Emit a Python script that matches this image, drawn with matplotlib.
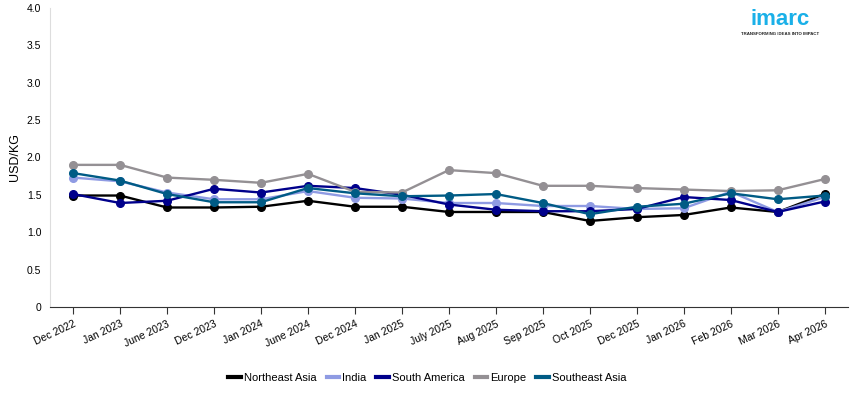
import matplotlib
matplotlib.use("Agg")
from matplotlib import pyplot as plt
from matplotlib.lines import Line2D

months = ["Dec 2022", "Jan 2023", "June 2023", "Dec 2023", "Jan 2024", "June 2024",
          "Dec 2024", "Jan 2025", "July 2025", "Aug 2025", "Sep 2025", "Oct 2025",
          "Dec 2025", "Jan 2026", "Feb 2026", "Mar 2026", "Apr 2026"]

northeast_asia = [1.49, 1.49, 1.33, 1.33, 1.34, 1.42, 1.34, 1.34, 1.27, 1.27, 1.27, 1.15, 1.20, 1.23, 1.33, 1.27, 1.51]
india = [1.73, 1.68, 1.53, 1.44, 1.44, 1.55, 1.46, 1.45, 1.39, 1.39, 1.35, 1.35, 1.31, 1.32, 1.54, 1.27, 1.47]
south_america = [1.51, 1.39, 1.42, 1.58, 1.53, 1.62, 1.59, 1.50, 1.37, 1.30, 1.28, 1.28, 1.31, 1.47, 1.43, 1.27, 1.41]
europe = [1.90, 1.90, 1.73, 1.70, 1.66, 1.78, 1.54, 1.53, 1.83, 1.79, 1.62, 1.62, 1.59, 1.57, 1.55, 1.56, 1.71]
southeast_asia = [1.79, 1.69, 1.51, 1.40, 1.40, 1.59, 1.52, 1.48, 1.49, 1.51, 1.39, 1.24, 1.34, 1.38, 1.52, 1.44, 1.49]

series = [
    ("Northeast Asia", northeast_asia, "#000000"),
    ("India", india, "#8f9be3"),
    ("South America", south_america, "#00008b"),
    ("Europe", europe, "#949094"),
    ("Southeast Asia", southeast_asia, "#005b85"),
]

plt.rcParams["font.family"] = ["Liberation Sans", "DejaVu Sans"]

fig = plt.figure(figsize=(8.55, 3.93), dpi=100)
ax = fig.add_axes([0.058, 0.219, 0.934, 0.761])

x = list(range(len(months)))
handles = []
for name, vals, col in series:
    ax.plot(x, vals, color=col, linewidth=1.7, marker="o", markersize=5.5)
    handles.append(Line2D([], [], color=col, linewidth=3, label=name))

ax.set_xlim(-0.5, len(months) - 0.5)
ax.set_ylim(0, 4.0)
ax.set_yticks([0, 0.5, 1.0, 1.5, 2.0, 2.5, 3.0, 3.5, 4.0])
ax.set_yticklabels(["0", "0.5", "1.0", "1.5", "2.0", "2.5", "3.0", "3.5", "4.0"], fontsize=7.5)
ax.set_xticks(x)
ax.set_xticklabels(months, rotation=25, ha="right", fontsize=7.5, rotation_mode="anchor")
ax.set_ylabel("USD/KG", fontsize=9)

for s in ["top", "right"]:
    ax.spines[s].set_visible(False)
ax.spines["left"].set_color("#dddddd")
ax.spines["bottom"].set_color("#333333")
ax.tick_params(axis="y", length=0, pad=6)
ax.tick_params(axis="x", length=5, color="#333333")

fig.legend(handles=handles, loc="center", bbox_to_anchor=(0.5, 0.038), ncol=5,
           frameon=False, fontsize=8, handlelength=1.1, handletextpad=0.3,
           columnspacing=0.9)

fig.text(0.912, 0.95, "imarc", color="#1ab0e8", fontsize=16, fontweight="bold",
         ha="center", va="center")
fig.text(0.912, 0.913, "TRANSFORMING IDEAS INTO IMPACT", color="#222222", fontsize=3.2,
         ha="center", va="center", fontweight="bold")

plt.savefig("out.png", dpi=100)
plt.close()
